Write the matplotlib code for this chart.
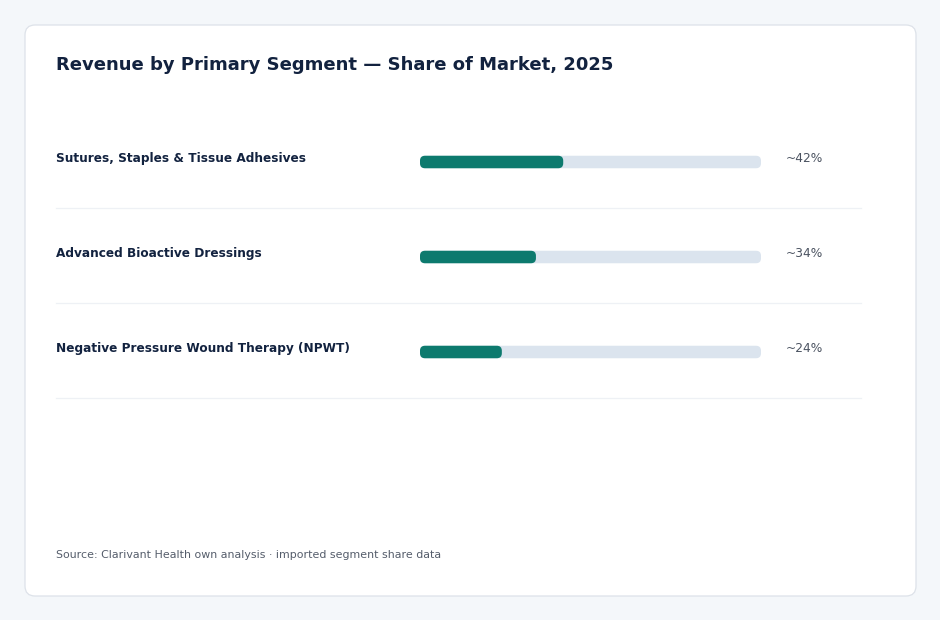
import matplotlib
matplotlib.use("Agg")
import matplotlib.pyplot as plt
from matplotlib.patches import FancyBboxPatch
from matplotlib.transforms import blended_transform_factory, offset_copy

# ---- data ----
segments = [
    "Sutures, Staples & Tissue Adhesives",
    "Advanced Bioactive Dressings",
    "Negative Pressure Wound Therapy (NPWT)",
]
shares = [42, 34, 24]
value_labels = ["~42%", "~34%", "~24%"]
title = "Revenue by Primary Segment \u2014 Share of Market, 2025"
source = "Source: Clarivant Health own analysis \u00b7 imported segment share data"

W, H = 940, 620
fig = plt.figure(figsize=(W / 100, H / 100), dpi=100)
fig.patch.set_facecolor("#f4f7fa")

# background / card axes in pixel coordinates
bg = fig.add_axes([0, 0, 1, 1])
bg.set_xlim(0, W)
bg.set_ylim(H, 0)
bg.axis("off")
card = FancyBboxPatch((25, 25), 891, 571, boxstyle="round,pad=0,rounding_size=10",
                      facecolor="white", edgecolor="#dde2e9", linewidth=0.9)
bg.add_patch(card)
bg.text(56, 65, title, fontsize=13, fontweight="bold", color="#12223f",
        va="center", ha="left")
bg.text(56, 555, source, fontsize=7.9, color="#555d6b", va="center", ha="left")

# bars axes
x0, x1 = 420, 761
pitch = 95
top = 162 - pitch / 2
n = len(segments)
ax = fig.add_axes([x0 / W, 1 - (top + n * pitch) / H, (x1 - x0) / W, n * pitch / H])
ax.set_xlim(0, 100)
ax.set_ylim(n - 0.5, -0.5)
ax.axis("off")
ax.patch.set_alpha(0)

bar_h = 12.5 / pitch
ypos = list(range(n))
track = ax.barh(ypos, [100] * n, height=bar_h, color="#dbe4ee")
fill = ax.barh(ypos, shares, height=bar_h, color="#0d7a6e")

x_per_px = 100 / (x1 - x0)
y_per_px = 1 / pitch
aspect = y_per_px / x_per_px
for rects in (track, fill):
    for r in rects:
        rb = FancyBboxPatch((r.get_x(), r.get_y()), r.get_width(), r.get_height(),
                            boxstyle=f"round,pad=0,rounding_size={5 * x_per_px}",
                            mutation_aspect=aspect, facecolor=r.get_facecolor(),
                            edgecolor="none")
        r.set_visible(False)
        ax.add_patch(rb)

label_tr = offset_copy(blended_transform_factory(fig.transFigure, ax.transData),
                       fig=fig, x=0, y=4, units="dots")
for i, (seg, vl) in enumerate(zip(segments, value_labels)):
    ax.text(56 / W, i, seg, transform=label_tr, fontsize=8.7, fontweight="bold",
            color="#12223f", va="center", ha="left", clip_on=False)
    ax.text(786 / W, i, vl, transform=label_tr, fontsize=8.8, color="#4a5260",
            va="center", ha="left", clip_on=False)
    sep_tr = blended_transform_factory(fig.transFigure, ax.transData)
    ax.plot([56 / W, 861 / W], [i + 46 / pitch] * 2, transform=sep_tr,
            color="#eef1f5", lw=0.9, clip_on=False)

fig.savefig("out.png", dpi=100, facecolor=fig.get_facecolor())
